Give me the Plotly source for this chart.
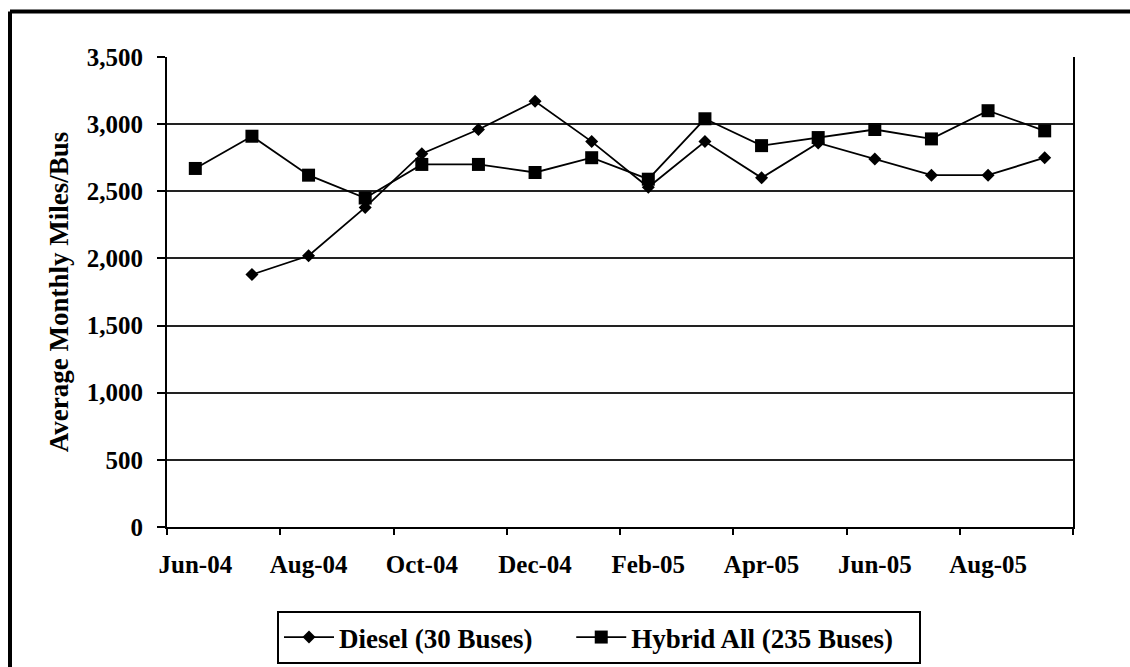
import plotly.graph_objects as go

# Monthly categories, June 2004 through September 2005
months = ["Jun-04", "Jul-04", "Aug-04", "Sep-04", "Oct-04", "Nov-04", "Dec-04", "Jan-05",
          "Feb-05", "Mar-05", "Apr-05", "May-05", "Jun-05", "Jul-05", "Aug-05", "Sep-05"]

# Average monthly miles per bus
diesel = [None, 1880, 2020, 2380, 2780, 2960, 3170, 2870,
          2530, 2870, 2600, 2860, 2740, 2620, 2620, 2750]
hybrid = [2670, 2910, 2620, 2450, 2700, 2700, 2640, 2750,
          2590, 3040, 2840, 2900, 2960, 2890, 3100, 2950]

y_ticks = [0, 500, 1000, 1500, 2000, 2500, 3000, 3500]

FONT = "Liberation Serif"

fig = go.Figure()
fig.add_trace(go.Scatter(
    x=months, y=diesel, name="<b>Diesel (30 Buses)</b>" + "&nbsp;" * 5, mode="lines+markers",
    line=dict(color="black", width=1.8),
    marker=dict(symbol="diamond", size=10, color="black"),
))
fig.add_trace(go.Scatter(
    x=months, y=hybrid, name="<b>Hybrid All (235 Buses)</b>" + "&nbsp;" * 3, mode="lines+markers",
    line=dict(color="black", width=1.8),
    marker=dict(symbol="square", size=13, color="black"),
))

L, R, T, B = 167, 57, 57, 140
W, H = 1130, 667
pw, ph = W - L - R, H - T - B

def px(xpix):
    return (xpix - L) / pw

def py(ypix):
    return (H - B - ypix) / ph

# Outer frame (left and top edges)
frame_x = px(10)
frame_y = py(11.5)
fig.add_shape(type="line", xref="paper", yref="paper",
              x0=frame_x, x1=frame_x, y0=py(700), y1=frame_y,
              line=dict(color="black", width=4))
fig.add_shape(type="line", xref="paper", yref="paper",
              x0=frame_x, x1=px(1200), y0=frame_y, y1=frame_y,
              line=dict(color="black", width=4))

fig.update_layout(
    template="none",
    width=W, height=H,
    margin=dict(l=L, r=R, t=T, b=B, autoexpand=False),
    paper_bgcolor="white", plot_bgcolor="white",
    font=dict(family=FONT, color="black", size=25),
    showlegend=True,
    legend=dict(
        orientation="h", xanchor="left", yanchor="top",
        xref="container", yref="container",
        x=277 / W, y=(H - 611) / H,
        bordercolor="black", borderwidth=2,
        font=dict(family=FONT, size=27),
        itemwidth=50,
        bgcolor="white",
    ),
)

fig.update_xaxes(
    type="category", categoryorder="array", categoryarray=months,
    tickmode="linear", tick0=0, dtick=2, tickangle=0,
    tickson="boundaries", ticks="outside", ticklen=6, tickwidth=2, tickcolor="black",
    showline=True, linecolor="black", linewidth=2,
    showgrid=False, zeroline=False, automargin=False,
    tickfont=dict(family=FONT, size=25, color="black", weight="bold"),
    ticklabelstandoff=14,
    range=[-0.5, 15.5],
)
fig.update_yaxes(
    range=[0, 3500], tickvals=y_ticks, tickformat=",d",
    ticks="outside", ticklen=8, tickwidth=2, tickcolor="black",
    showline=True, linecolor="black", linewidth=2, mirror=True,
    showgrid=True, gridcolor="#222222", gridwidth=1.5,
    zeroline=False, automargin=False,
    tickfont=dict(family=FONT, size=25, color="black", weight="bold"),
    ticklabelstandoff=9,
    title=dict(text="<b>Average Monthly Miles/Bus</b>", font=dict(family=FONT, size=27), standoff=10),
)

fig.write_html("out.html")
